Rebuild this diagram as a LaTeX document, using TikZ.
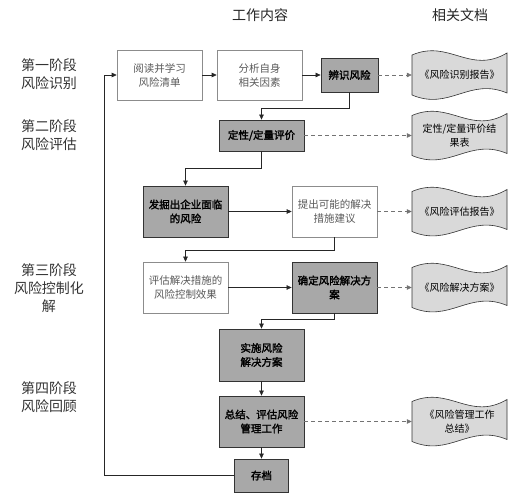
\documentclass[tikz,border=0pt]{standalone}
\usepackage{fontspec}
\setmainfont{Noto Sans CJK SC}[AutoFakeBold=2]
\usetikzlibrary{arrows.meta}
\definecolor{boxgray}{HTML}{A8A8A8}
\definecolor{docgray}{HTML}{D9D9D9}
\definecolor{linegray}{HTML}{333333}
\begin{document}
\begin{tikzpicture}[x=1pt,y=-1pt]
	\tikzset{
	  box/.style={draw,inner sep=1pt,align=center,minimum width=85pt,minimum height=51pt,
		font=\fontsize{10.5}{14}\selectfont},
	  whitebox/.style={box,draw=black!45,text=black!65,line width=0.6pt},
	  graybox/.style={box,fill=boxgray,draw=linegray,line width=0.8pt,
		font=\fontsize{10.5}{14}\selectfont\bfseries},
	  doctext/.style={inner sep=0pt,align=center,text width=88pt,minimum width=95pt,
		minimum height=36pt,font=\fontsize{10}{14}\selectfont},
	  stagetext/.style={align=center,text=black!80,font=\fontsize{14}{18}\selectfont},
	  headtext/.style={text=black!85,font=\fontsize{14}{18}\selectfont},
	  flow/.style={draw=black!85,line width=0.6pt,-{Triangle[length=5pt,width=4.5pt]}},
	  docflow/.style={flow,draw=black!55,dash pattern=on 4pt off 3pt}
	}

	\tikzset{
	  pics/docu/.style args={#1}{code={
		\filldraw[fill=docgray,draw=linegray,line width=0.6pt]
		  (-47.5,-20) .. controls (-10,-36) and (10,0) .. (47.5,-22) -- (47.5,18)
		  .. controls (10,2) and (-10,36) .. (-47.5,20) -- cycle;
		\node[doctext] (-t) at (0,0) {#1};
		},
	  }
	}

	\useasboundingbox (0,0) rectangle (523,500);

	%HEADERS
	\node[headtext] (hwork) at (260,15) {工作内容};
	\node[headtext] (hdoc) at (460,15) {相关文档};

	%STAGES
	\node[stagetext] (s1) at (49,74) {第一阶段\\风险识别};
	\node[stagetext] (s2) at (49,135) {第二阶段\\风险评估};
	\node[stagetext] (s3) at (49,288) {第三阶段\\风险控制化\\解};
	\node[stagetext] (s4) at (49,397) {第四阶段\\风险回顾};

	%WORK BOXES
	\node[whitebox,minimum height=50pt] (b1) at (159.5,75) {阅读并学习\\风险清单};
	\node[whitebox,minimum height=50pt] (b2) at (259.5,75) {分析自身\\相关因素};
	\node[graybox,minimum width=57pt,minimum height=34pt] (b3) at (349.5,75) {辨识风险};
	\node[graybox,minimum height=31pt] (b4) at (261.5,135.5) {定性/定量评价};
	\node[graybox] (b5) at (185.5,211.5) {发掘出企业面临\\的风险};
	\node[whitebox] (b6) at (334.5,211.5) {提出可能的解决\\措施建议};
	\node[whitebox] (b7) at (185.5,287.5) {评估解决措施的\\风险控制效果};
	\node[graybox] (b8) at (334.5,287.5) {确定风险解决方\\案};
	\node[graybox,minimum height=52pt] (b9) at (261.5,355) {实施风险\\解决方案};
	\node[graybox] (b10) at (261.5,421.5) {总结、评估风险\\管理工作};
	\node[graybox,minimum width=54pt,minimum height=33pt] (b11) at (261.5,475.5) {存档};

	%DOCUMENTS
	\path (459.5,75) pic (d1) {docu={《风险识别报告》}};
	\path (459.5,135.5) pic (d2) {docu={定性/定量评价结\\果表}};
	\path (459.5,211.5) pic (d3) {docu={《风险评估报告》}};
	\path (459.5,287.5) pic (d4) {docu={《风险解决方案》}};
	\path (459.5,421.5) pic (d5) {docu={《风险管理工作\\总结》}};

	%FLOW
	\draw[flow] (b1) -- (b2);
	\draw[flow] (b2) -- (b3);
	\draw[flow] (b3.south) -- ++(0,16) -| (b4.north);
	\draw[flow] (b4.south) -- ++(0,17) -| (b5.north);
	\draw[flow] (b5) -- (b6);
	\draw[flow] (b6.south) -- ++(0,13) -| (b7.north);
	\draw[flow] (b7) -- (b8);
	\draw[flow] (b8.south) -- ++(0,6) -| (b9.north);
	\draw[flow] (b9) -- (b10);
	\draw[flow] (b10) -- (b11);
	%LOOP BACK
	\coordinate (back) at (104,75);
	\draw[flow] (b11.west) -| (back) -- (b1.west);

	%DOC LINKS
	\draw[docflow] (b3) -- (d1-t);
	\draw[docflow] (b4) -- (d2-t);
	\draw[docflow] (b6) -- (d3-t);
	\draw[docflow] (b8) -- (d4-t);
	\draw[docflow] (b10) -- (d5-t);
\end{tikzpicture}
\end{document}
